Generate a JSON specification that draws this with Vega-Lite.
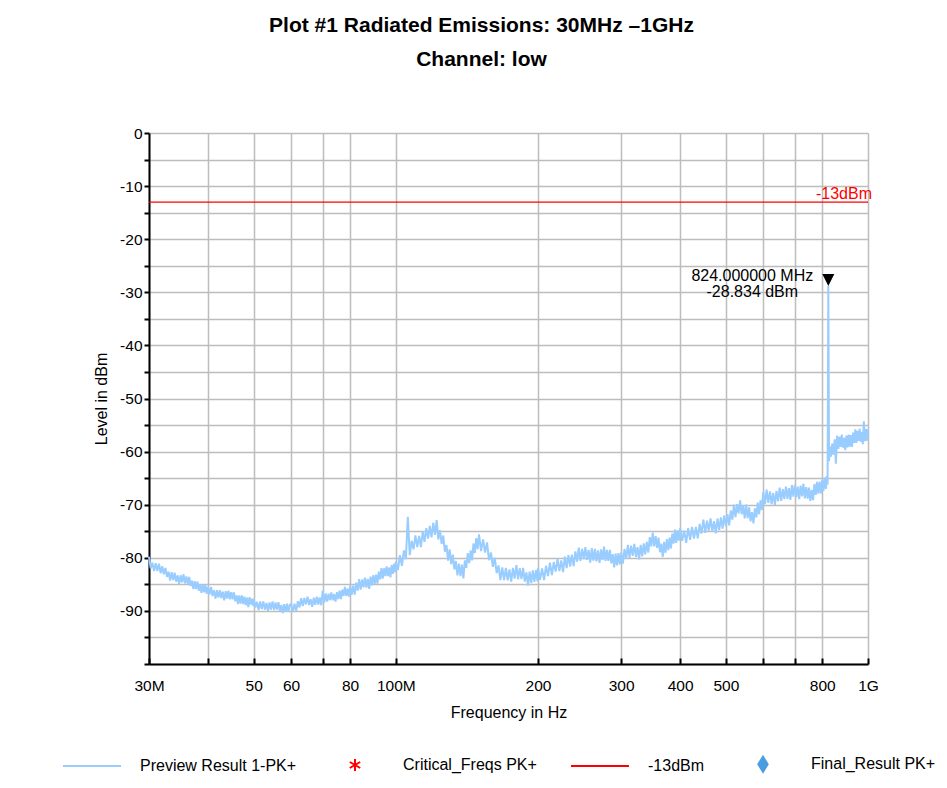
{
  "$schema": "https://vega.github.io/schema/vega-lite/v6.json",
  "width": 719,
  "height": 531,
  "autosize": {"type": "none"},
  "padding": {"left": 149, "top": 133, "right": 79, "bottom": 124},
  "background": "white",
  "title": {
    "text": "Plot #1 Radiated Emissions: 30MHz –1GHz",
    "subtitle": "Channel: low",
    "anchor": "middle",
    "dx": -27,
    "offset": 56,
    "font": "Liberation Sans",
    "fontSize": 21,
    "fontWeight": "bold",
    "color": "black",
    "subtitleFont": "Liberation Sans",
    "subtitleFontSize": 21,
    "subtitleFontWeight": "bold",
    "subtitleColor": "black",
    "subtitlePadding": 13
  },
  "config": {
    "view": {"stroke": null},
    "font": "Liberation Sans",
    "axis": {
      "labelFont": "Liberation Sans",
      "titleFont": "Liberation Sans",
      "labelColor": "black",
      "titleColor": "black",
      "titleFontWeight": "normal",
      "labelFontSize": 15.5,
      "titleFontSize": 16,
      "gridColor": "#bdbdbd",
      "gridWidth": 1.5,
      "gridOpacity": 1,
      "domainColor": "black",
      "domainWidth": 2,
      "tickColor": "black",
      "tickWidth": 2,
      "labelFlush": false,
      "labelOverlap": false
    }
  },
  "datasets": {
    "trace": [
      {"f":30.0,"v":-79.8},{"f":30.25,"v":-82.0},{"f":30.5,"v":-80.9},{"f":30.75,"v":-82.5},{"f":31.0,"v":-81.0},
      {"f":31.25,"v":-82.5},{"f":31.5,"v":-81.1},{"f":31.75,"v":-82.9},{"f":32.0,"v":-81.6},{"f":32.25,"v":-83.1},
      {"f":32.5,"v":-81.9},{"f":32.75,"v":-83.6},{"f":33.0,"v":-82.6},{"f":33.25,"v":-84.3},{"f":33.5,"v":-82.7},
      {"f":33.75,"v":-84.2},{"f":34.0,"v":-82.8},{"f":34.25,"v":-84.5},{"f":34.5,"v":-83.3},{"f":34.75,"v":-84.9},
      {"f":35.0,"v":-83.3},{"f":35.25,"v":-84.6},{"f":35.5,"v":-83.1},{"f":35.75,"v":-84.8},{"f":36.0,"v":-83.5},
      {"f":36.25,"v":-84.9},{"f":36.5,"v":-83.6},{"f":36.75,"v":-85.3},{"f":37.0,"v":-84.3},{"f":37.25,"v":-85.9},
      {"f":37.5,"v":-84.4},{"f":37.75,"v":-85.9},{"f":38.0,"v":-84.5},{"f":38.25,"v":-86.2},{"f":38.5,"v":-85.0},
      {"f":38.75,"v":-86.6},{"f":39.0,"v":-85.1},{"f":39.25,"v":-86.5},{"f":39.5,"v":-85.0},{"f":39.75,"v":-86.8},
      {"f":40.0,"v":-85.5},{"f":40.3,"v":-86.9},{"f":40.6,"v":-85.5},{"f":40.9,"v":-87.2},{"f":41.2,"v":-86.1},
      {"f":41.5,"v":-87.7},{"f":41.8,"v":-86.1},{"f":42.1,"v":-87.5},{"f":42.4,"v":-86.1},{"f":42.7,"v":-87.6},
      {"f":43.0,"v":-86.4},{"f":43.3,"v":-88.0},{"f":43.6,"v":-86.3},{"f":43.9,"v":-87.7},{"f":44.2,"v":-86.2},
      {"f":44.5,"v":-87.8},{"f":44.8,"v":-86.5},{"f":45.1,"v":-87.8},{"f":45.4,"v":-86.5},{"f":45.7,"v":-88.2},
      {"f":46.0,"v":-87.1},{"f":46.3,"v":-88.7},{"f":46.6,"v":-87.1},{"f":46.9,"v":-88.6},{"f":47.2,"v":-87.1},
      {"f":47.5,"v":-88.7},{"f":47.8,"v":-87.3},{"f":48.1,"v":-88.9},{"f":48.4,"v":-87.5},{"f":48.7,"v":-89.3},
      {"f":49.0,"v":-87.4},{"f":49.3,"v":-88.8},{"f":49.6,"v":-87.7},{"f":49.9,"v":-89.1},
      {"f":50.0,"v":-87.7},{"f":50.4,"v":-89.35},{"f":50.8,"v":-88.3},{"f":51.2,"v":-89.85},{"f":51.6,"v":-88.2},
      {"f":52.0,"v":-89.66},{"f":52.4,"v":-88.2},{"f":52.8,"v":-89.76},{"f":53.2,"v":-88.5},{"f":53.6,"v":-90.06},
      {"f":54.0,"v":-88.41},{"f":54.4,"v":-89.76},{"f":54.8,"v":-88.2},{"f":55.2,"v":-89.82},{"f":55.6,"v":-88.43},
      {"f":56.0,"v":-89.75},{"f":56.4,"v":-88.36},{"f":56.8,"v":-89.98},{"f":57.2,"v":-88.89},{"f":57.6,"v":-90.41},
      {"f":58.0,"v":-88.72},{"f":58.4,"v":-90.14},{"f":58.8,"v":-88.65},{"f":59.2,"v":-90.17},{"f":59.6,"v":-88.88},
      {"f":60.0,"v":-88.7},{"f":60.5,"v":-90.07},{"f":61.0,"v":-88.64},{"f":61.5,"v":-90.01},{"f":62.0,"v":-88.18},
      {"f":62.5,"v":-89.35},{"f":63.0,"v":-87.61},{"f":63.5,"v":-89.08},{"f":64.0,"v":-87.55},{"f":64.5,"v":-88.78},
      {"f":65.0,"v":-87.34},{"f":65.5,"v":-88.91},{"f":66.0,"v":-87.78},{"f":66.5,"v":-89.24},{"f":67.0,"v":-87.51},
      {"f":67.5,"v":-88.87},{"f":68.0,"v":-87.34},{"f":68.5,"v":-88.8},{"f":69.0,"v":-87.47},{"f":69.5,"v":-88.93},
      {"f":70.0,"v":-86.2},{"f":70.5,"v":-88.42},{"f":71.0,"v":-86.73},{"f":71.5,"v":-88.25},{"f":72.0,"v":-86.77},
      {"f":72.5,"v":-87.98},{"f":73.0,"v":-86.5},{"f":73.5,"v":-88.02},{"f":74.0,"v":-86.83},{"f":74.5,"v":-88.25},
      {"f":75.0,"v":-86.47},{"f":75.5,"v":-87.78},{"f":76.0,"v":-86.18},{"f":76.5,"v":-87.78},{"f":77.0,"v":-85.99},
      {"f":77.5,"v":-87.19},{"f":78.0,"v":-85.49},{"f":78.5,"v":-87.19},{"f":79.0,"v":-85.8},{"f":79.5,"v":-87.3},
      {"f":80.0,"v":-85.3},{"f":80.6,"v":-86.97},{"f":81.2,"v":-85.25},{"f":81.8,"v":-86.92},{"f":82.4,"v":-84.69},
      {"f":83.0,"v":-86.17},{"f":83.6,"v":-84.04},{"f":84.2,"v":-86.01},{"f":84.8,"v":-84.09},{"f":85.4,"v":-85.56},
      {"f":86.0,"v":-83.73},{"f":86.6,"v":-85.61},{"f":87.2,"v":-83.98},{"f":87.8,"v":-85.85},{"f":88.4,"v":-83.53},
      {"f":89.0,"v":-85.2},{"f":89.6,"v":-83.26},{"f":90.2,"v":-84.93},{"f":90.8,"v":-83.19},{"f":91.4,"v":-84.85},
      {"f":92.0,"v":-82.62},{"f":92.6,"v":-84.08},{"f":93.2,"v":-81.95},{"f":93.8,"v":-83.91},{"f":94.4,"v":-81.97},
      {"f":95.0,"v":-83.44},{"f":95.6,"v":-81.6},{"f":96.2,"v":-83.46},{"f":96.8,"v":-81.83},{"f":97.4,"v":-83.69},
      {"f":98.0,"v":-81.35},{"f":98.6,"v":-83.02},{"f":99.2,"v":-81.08},{"f":99.8,"v":-82.75},
      {"f":100,"v":-80.7},{"f":101,"v":-82.3},{"f":102,"v":-79.5},{"f":103,"v":-81.5},{"f":104,"v":-78.6},
      {"f":105,"v":-80.25},{"f":106,"v":-72.3},{"f":107,"v":-79.5},{"f":108,"v":-76.8},{"f":109,"v":-78.4},
      {"f":110,"v":-75.8},{"f":111,"v":-78.0},{"f":112,"v":-75.9},{"f":113,"v":-78.0},{"f":114,"v":-75.0},
      {"f":115,"v":-77.0},{"f":116,"v":-74.4},{"f":117,"v":-76.4},{"f":118,"v":-74.0},{"f":119,"v":-76.15},
      {"f":120,"v":-73.4},{"f":121,"v":-75.7},{"f":122,"v":-72.9},{"f":123,"v":-76.55},{"f":124,"v":-74.8},
      {"f":125,"v":-77.4},{"f":126,"v":-75.8},{"f":127,"v":-78.85},{"f":128,"v":-77.6},{"f":129,"v":-80.55},
      {"f":130,"v":-78.4},{"f":131,"v":-81.2},{"f":132,"v":-79.4},{"f":133,"v":-82.2},{"f":134,"v":-80.6},
      {"f":135,"v":-83.3},{"f":136,"v":-81.1},{"f":137,"v":-83.45},{"f":138,"v":-81.3},{"f":139,"v":-83.9},
      {"f":140,"v":-80.5},{"f":141,"v":-81.9},{"f":142,"v":-79.1},{"f":143,"v":-81.0},{"f":144,"v":-78.6},
      {"f":145,"v":-80.5},{"f":146,"v":-77.3},{"f":147,"v":-79.1},{"f":148,"v":-76.3},{"f":149,"v":-78.35},
      {"f":150,"v":-75.6},{"f":151.5,"v":-78.75},{"f":153,"v":-76.55},{"f":154.5,"v":-79.0},{"f":156,"v":-77.1},
      {"f":157.5,"v":-80.45},{"f":159,"v":-79.0},{"f":160.5,"v":-81.7},{"f":162,"v":-80.0},{"f":163.5,"v":-82.9},
      {"f":165,"v":-81.45},{"f":166.5,"v":-84.2},{"f":168,"v":-81.8},{"f":169.5,"v":-84.18},{"f":171,"v":-81.9},
      {"f":172.5,"v":-84.25},{"f":174,"v":-82.2},{"f":175.5,"v":-84.5},{"f":177,"v":-81.9},{"f":178.5,"v":-83.9},
      {"f":180,"v":-81.4},{"f":181.5,"v":-84.08},{"f":183,"v":-81.95},{"f":184.5,"v":-84.03},{"f":186,"v":-81.9},
      {"f":187.5,"v":-84.48},{"f":189,"v":-82.75},{"f":190.5,"v":-85.23},{"f":192,"v":-82.6},{"f":193.5,"v":-84.75},
      {"f":195,"v":-82.35},{"f":196.5,"v":-84.55},{"f":198,"v":-82.3},{"f":199.5,"v":-84.45},
      {"f":200,"v":-81.9},{"f":202,"v":-84.15},{"f":204,"v":-82.0},{"f":206,"v":-84.2},{"f":208,"v":-81.5},
      {"f":210,"v":-83.45},{"f":212,"v":-80.9},{"f":214,"v":-83.25},{"f":216,"v":-80.8},{"f":218,"v":-82.6},
      {"f":220,"v":-80.2},{"f":222,"v":-82.5},{"f":224,"v":-80.5},{"f":226,"v":-82.7},{"f":228,"v":-79.8},
      {"f":230,"v":-81.95},{"f":232,"v":-79.5},{"f":234,"v":-81.65},{"f":236,"v":-79.4},{"f":238,"v":-81.55},
      {"f":240,"v":-78.8},{"f":242,"v":-80.7},{"f":244,"v":-78.1},{"f":246,"v":-80.6},{"f":248,"v":-78.3},
      {"f":250,"v":-80.25},{"f":252,"v":-78.0},{"f":254,"v":-80.4},{"f":256,"v":-78.5},{"f":258,"v":-80.9},
      {"f":260,"v":-78.2},{"f":262,"v":-80.55},{"f":264,"v":-78.3},{"f":266,"v":-80.65},{"f":268,"v":-78.6},
      {"f":270,"v":-80.95},{"f":272,"v":-78.4},{"f":274,"v":-80.4},{"f":276,"v":-77.9},{"f":278,"v":-80.6},
      {"f":280,"v":-78.5},{"f":282,"v":-80.6},{"f":284,"v":-78.5},{"f":286,"v":-81.05},{"f":288,"v":-79.3},
      {"f":290,"v":-81.8},{"f":292,"v":-79.2},{"f":294,"v":-81.45},{"f":296,"v":-79.1},{"f":298,"v":-81.25},
      {"f":300,"v":-79.0},{"f":302.5,"v":-81.1},{"f":305,"v":-78.35},{"f":307.5,"v":-80.2},{"f":310,"v":-77.55},
      {"f":312.5,"v":-80.0},{"f":315,"v":-77.7},{"f":317.5,"v":-79.65},{"f":320,"v":-77.4},{"f":322.5,"v":-79.85},
      {"f":325,"v":-78.0},{"f":327.5,"v":-80.3},{"f":330,"v":-77.55},{"f":332.5,"v":-79.75},{"f":335,"v":-77.3},
      {"f":337.5,"v":-79.35},{"f":340,"v":-77.0},{"f":342.5,"v":-79.0},{"f":345,"v":-76.1},{"f":347.5,"v":-77.85},
      {"f":350,"v":-75.25},{"f":352.5,"v":-77.85},{"f":355,"v":-75.9},{"f":357.5,"v":-78.15},{"f":360,"v":-76.2},
      {"f":362.5,"v":-78.95},{"f":365,"v":-77.35},{"f":367.5,"v":-79.85},{"f":370,"v":-77.0},{"f":372.5,"v":-79.05},
      {"f":375,"v":-76.5},{"f":377.5,"v":-78.55},{"f":380,"v":-76.2},{"f":382.5,"v":-78.25},{"f":385,"v":-75.45},
      {"f":387.5,"v":-77.35},{"f":390,"v":-74.7},{"f":392.5,"v":-77.2},{"f":395,"v":-74.85},{"f":397.5,"v":-76.75},
      {"f":400,"v":-74.4},{"f":404,"v":-76.8},{"f":408,"v":-74.9},{"f":412,"v":-77.2},{"f":416,"v":-74.4},
      {"f":420,"v":-76.6},{"f":424,"v":-74.2},{"f":428,"v":-76.4},{"f":432,"v":-74.2},{"f":436,"v":-76.35},
      {"f":440,"v":-73.6},{"f":444,"v":-75.45},{"f":448,"v":-72.8},{"f":452,"v":-75.3},{"f":456,"v":-73.0},
      {"f":460,"v":-74.9},{"f":464,"v":-72.6},{"f":468,"v":-75.0},{"f":472,"v":-73.1},{"f":476,"v":-75.4},
      {"f":480,"v":-72.6},{"f":484,"v":-74.8},{"f":488,"v":-72.4},{"f":492,"v":-74.5},{"f":496,"v":-72.0},
      {"f":500,"v":-74.1},{"f":504,"v":-71.8},{"f":508,"v":-73.9},{"f":512,"v":-71.1},{"f":516,"v":-72.8},
      {"f":520,"v":-70.0},{"f":524,"v":-72.35},{"f":528,"v":-69.9},{"f":532,"v":-71.65},{"f":536,"v":-69.2},
      {"f":540,"v":-71.8},{"f":544,"v":-70.1},{"f":548,"v":-72.6},{"f":552,"v":-70.0},{"f":556,"v":-72.55},
      {"f":560,"v":-70.5},{"f":564,"v":-73.15},{"f":568,"v":-71.4},{"f":572,"v":-73.5},{"f":576,"v":-70.7},
      {"f":580,"v":-72.4},{"f":584,"v":-69.6},{"f":588,"v":-71.8},{"f":592,"v":-69.2},{"f":596,"v":-71.0},
      {"f":600,"v":-67.6},{"f":605,"v":-69.9},{"f":610,"v":-67.15},{"f":615,"v":-69.65},{"f":620,"v":-67.5},
      {"f":625,"v":-69.9},{"f":630,"v":-67.8},{"f":635,"v":-70.05},{"f":640,"v":-67.4},{"f":645,"v":-69.35},
      {"f":650,"v":-66.8},{"f":655,"v":-69.3},{"f":660,"v":-67.05},{"f":665,"v":-68.95},{"f":670,"v":-66.6},
      {"f":675,"v":-68.9},{"f":680,"v":-66.9},{"f":685,"v":-69.1},{"f":690,"v":-66.3},{"f":695,"v":-68.5},
      {"f":700,"v":-66.25},{"f":705,"v":-68.6},{"f":710,"v":-66.6},{"f":715,"v":-68.95},{"f":720,"v":-66.4},
      {"f":725,"v":-68.45},{"f":730,"v":-66.05},{"f":735,"v":-68.8},{"f":740,"v":-66.7},{"f":745,"v":-68.85},
      {"f":750,"v":-66.8},{"f":755,"v":-69.3},{"f":760,"v":-67.2},{"f":765,"v":-69.15},{"f":770,"v":-66.1},
      {"f":775,"v":-68.15},{"f":780,"v":-65.7},{"f":785,"v":-67.9},{"f":790,"v":-65.65},{"f":795,"v":-67.85},
      {"f":800,"v":-65.3},{"f":805,"v":-67.4},{"f":810,"v":-64.9},{"f":815,"v":-67.0},{"f":818,"v":-64.6},
      {"f":821,"v":-66.2},{"f":824,"v":-28.834},{"f":827,"v":-61.8},
      {"f":830,"v":-59.0},{"f":835,"v":-60.95},{"f":840,"v":-58.5},{"f":845,"v":-60.55},{"f":850,"v":-57.7},
      {"f":855,"v":-62.3},{"f":860,"v":-57.0},{"f":865,"v":-59.5},{"f":870,"v":-57.2},{"f":875,"v":-59.1},
      {"f":880,"v":-56.8},{"f":885,"v":-59.25},{"f":890,"v":-57.4},{"f":895,"v":-59.75},{"f":900,"v":-57.0},
      {"f":905,"v":-59.2},{"f":910,"v":-56.8},{"f":915,"v":-59.05},{"f":920,"v":-56.9},{"f":925,"v":-59.1},
      {"f":930,"v":-56.4},{"f":935,"v":-58.35},{"f":940,"v":-55.8},{"f":945,"v":-58.35},{"f":950,"v":-56.1},
      {"f":955,"v":-58.0},{"f":960,"v":-55.7},{"f":965,"v":-58.15},{"f":970,"v":-56.3},{"f":975,"v":-58.6},
      {"f":980,"v":-54.3},{"f":985,"v":-58.05},{"f":990,"v":-55.7},{"f":995,"v":-57.95},{"f":1000,"v":-55.8}
    ],
    "limit": [{"level": -13, "name": "-13dBm"}],
    "peak": [{"f": 824, "v": -28.834}]
  },
  "encoding": {
    "x": {
      "field": "f",
      "type": "quantitative",
      "scale": {"type": "log", "domain": [30, 1000], "nice": false},
      "axis": {
        "title": "Frequency in Hz",
        "values": [30, 40, 50, 60, 70, 80, 100, 200, 300, 400, 500, 600, 700, 800, 1000],
        "labelExpr": "datum.value == 30 ? '30M' : datum.value == 100 ? '100M' : datum.value == 1000 ? '1G' : (datum.value == 40 || datum.value == 70 || datum.value == 600 || datum.value == 700) ? '' : '' + datum.value",
        "tickSize": -6,
        "labelPadding": 20,
        "titlePadding": 11,
        "grid": true
      }
    },
    "y": {
      "field": "v",
      "type": "quantitative",
      "scale": {"domain": [-100, 0], "nice": false, "zero": false},
      "axis": {
        "title": "Level in dBm",
        "values": [-100, -95, -90, -85, -80, -75, -70, -65, -60, -55, -50, -45, -40, -35, -30, -25, -20, -15, -10, -5, 0],
        "labelExpr": "(datum.value % 10 == 0 && datum.value > -100) ? '' + datum.value : ''",
        "tickSize": 5,
        "labelPadding": 2,
        "titlePadding": 10,
        "grid": true
      }
    }
  },
  "layer": [
    {
      "data": {"name": "limit"},
      "encoding": {"y": {"field": "level", "type": "quantitative"}},
      "layer": [
        {
          "mark": {"type": "rule", "strokeWidth": 1.3},
          "encoding": {
            "x": null,
            "color": {
              "field": "name",
              "type": "nominal",
              "scale": {
                "domain": ["Preview Result 1-PK+", "Critical_Freqs PK+", "-13dBm", "Final_Result PK+"],
                "range": ["#99ccff", "#ff0000", "#ff0000", "#4a9de0"]
              },
              "legend": {
                "title": null,
                "orient": "none",
                "direction": "horizontal",
                "legendX": -86,
                "legendY": 623,
                "columnPadding": 29,
                "symbolStrokeWidth": 2,
                "labelOffset": 61,
                "labelFontSize": 16,
                "labelFont": "Liberation Sans",
                "labelColor": "black",
                "labelLimit": 300,
                "encode": {
                  "symbols": {
                    "update": {
                      "shape": {"signal": "datum.value === 'Critical_Freqs PK+' ? 'M3.5,-1L3.5,1M2.63,-0.5L4.37,0.5M2.63,0.5L4.37,-0.5' : datum.value === 'Final_Result PK+' ? 'M2.8,-1L3.42,0L2.8,1L2.18,0Z' : 'M-0.276,0L1.724,0'"},
                      "size": {"signal": "datum.value === 'Critical_Freqs PK+' ? 144 : datum.value === 'Final_Result PK+' ? 225 : 3364"},
                      "fill": {"signal": "datum.value === 'Final_Result PK+' ? '#4a9de0' : 'transparent'"},
                      "stroke": {"signal": "datum.value === 'Preview Result 1-PK+' ? '#99ccff' : datum.value === 'Final_Result PK+' ? 'transparent' : '#ff0000'"},
                      "strokeWidth": {"signal": "datum.value === 'Critical_Freqs PK+' ? 2 : 2"},
                      "opacity": {"value": 1}
                    }
                  }
                }
              }
            }
          }
        },
        {
          "mark": {"type": "text", "align": "right", "baseline": "alphabetic", "dx": 4, "dy": -3, "fontSize": 16, "font": "Liberation Sans", "color": "#ff0000"},
          "encoding": {
            "x": {"value": "width"},
            "text": {"field": "name", "type": "nominal"}
          }
        }
      ]
    },
    {
      "data": {"name": "trace"},
      "mark": {"type": "line", "strokeWidth": 2, "interpolate": "linear"},
      "encoding": {
        "color": {"datum": "Preview Result 1-PK+", "type": "nominal"}
      }
    },
    {
      "data": {"name": "peak"},
      "mark": {"type": "point", "shape": "M-1,-2L1,-2L0,0Z", "size": 144, "filled": true, "color": "black", "opacity": 1}
    },
    {
      "data": {"name": "peak"},
      "mark": {"type": "text", "align": "center", "baseline": "alphabetic", "dx": -76, "dy": -5, "fontSize": 16, "font": "Liberation Sans", "color": "black", "lineHeight": 16},
      "encoding": {
        "text": {"value": ["824.000000 MHz", "-28.834 dBm"]}
      }
    }
  ]
}
